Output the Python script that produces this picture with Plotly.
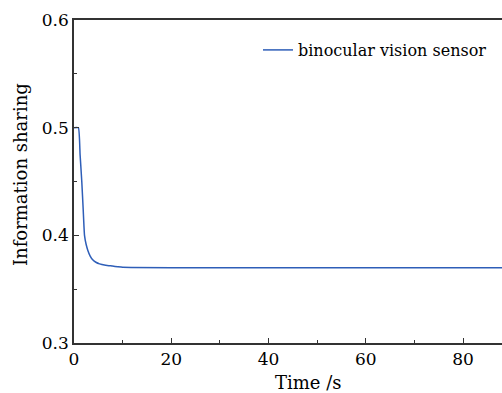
import plotly.graph_objects as go

time_s = [0, 0.9, 1.25, 1.6, 1.9, 2.16, 2.5, 2.85, 3.3, 3.9, 4.5, 5.25, 6.5, 7.9, 9.0, 10, 20, 40, 60, 80, 100]
info_sharing = [0.5, 0.5, 0.475, 0.45, 0.423, 0.40, 0.3915, 0.386, 0.381, 0.377, 0.375, 0.3735, 0.3723, 0.3715, 0.3708, 0.3703, 0.37, 0.37, 0.37, 0.37, 0.37]

FONT = "DejaVu Serif"
AX = "#333333"

L, R, T, B = 74, 0, 20, 50
W, H = 502, 393
PW, PH = W - L - R, H - T - B

fig = go.Figure()
fig.add_trace(go.Scatter(x=time_s, y=info_sharing, mode="lines",
                         line=dict(color="#2E5EB8", width=1.5, shape="spline", smoothing=0.4),
                         name="binocular vision sensor"))

fig.update_layout(
    width=W, height=H,
    margin=dict(l=L, r=R, t=T, b=B),
    paper_bgcolor="white", plot_bgcolor="white",
    font=dict(family=FONT, size=17, color="black"),
    showlegend=True,
    legend=dict(x=(258 - L) / PW, y=1 - (50 - T) / PH, xanchor="left", yanchor="middle",
                bgcolor="rgba(0,0,0,0)", font=dict(family=FONT, size=16, color="black")),
    xaxis=dict(range=[0, 88], tickvals=[0, 20, 40, 60, 80], ticks="inside", ticklen=5,
               tickcolor=AX, showline=True, linecolor=AX, linewidth=1.5, mirror=True,
               showgrid=False, zeroline=False,
               tickfont=dict(family=FONT, size=17, color="black"),
               minor=dict(ticks="inside", dtick=10, ticklen=3, tickcolor=AX, showgrid=False)),
    yaxis=dict(range=[0.3, 0.6], tickvals=[0.3, 0.4, 0.5, 0.6], ticktext=["0.3", "0.4", "0.5", "0.6"],
               ticks="inside", ticklen=5, tickcolor=AX, showline=True, linecolor=AX, linewidth=1.5,
               showgrid=False, zeroline=False,
               tickfont=dict(family=FONT, size=17, color="black"),
               minor=dict(ticks="inside", dtick=0.05, ticklen=3, tickcolor=AX, showgrid=False)),
    annotations=[
        dict(text="Time /s", x=(308 - L) / PW, y=-(382 - (T + PH)) / PH,
             xref="paper", yref="paper", xanchor="center", yanchor="middle",
             showarrow=False, font=dict(family=FONT, size=18, color="black")),
        dict(text="Information sharing", x=(20 - L) / PW, y=1 - (175 - T) / PH,
             xref="paper", yref="paper", xanchor="center", yanchor="middle", textangle=-90,
             showarrow=False, font=dict(family=FONT, size=18, color="black")),
    ],
)

fig.write_html("out.html")
